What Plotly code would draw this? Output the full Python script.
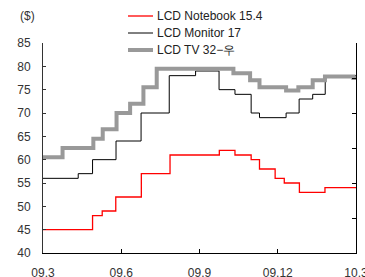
import plotly.graph_objects as go

# x positions: months since 2009-03 (0 = 09.3, 12 = 10.3)
tick_vals = [0, 3, 6, 9, 12]
tick_text = ["09.3", "09.6", "09.9", "09.12", "10.3"]

nb_x = [0, 1.9, 2.27, 2.79, 3.77, 4.87, 6.76, 7.36, 7.98, 8.3, 8.9, 9.25, 9.83, 10.81, 12]
nb_y = [45, 48, 49, 52, 57, 61, 62, 61, 60, 58, 56, 55, 53, 54, 54]

mon_x = [0, 1.35, 1.9, 2.8, 3.76, 4.84, 5.85, 6.75, 7.36, 7.98, 8.3, 9.32, 9.82, 10.34, 10.82, 12]
mon_y = [56, 57, 60, 64, 70, 78, 79, 75, 74, 70, 69, 70, 73, 74, 78, 78]

tv_x = [0, 0.75, 1.93, 2.29, 2.82, 3.34, 3.85, 4.36, 7.3, 7.94, 8.3, 9.32, 9.79, 10.34, 10.81, 11.9, 12]
tv_y = [60.5, 62.5, 64.5, 66.5, 70, 72, 75.5, 79.5, 78.5, 77, 75.5, 74.8, 75.5, 77, 77.8, 77.5, 77.5]

names = ["LCD Notebook 15.4", "LCD Monitor 17", "LCD TV 32\u2212\uc6b0"]
colors = ["#ff0000", "#000000", "#999999"]
widths = [1.3, 1, 4]

# plot area in pixels (for legend placement)
L, R, T, B = 43, 356, 43, 253
W, H = R - L, B - T
def px(x):
    return (x - L) / W
def py(y):
    return (B - y) / H

fig = go.Figure()
for xs, ys, n, c, w in zip([nb_x, mon_x, tv_x], [nb_y, mon_y, tv_y], names, colors, widths):
    fig.add_trace(go.Scatter(x=xs, y=ys, mode="lines", line_shape="hv",
                             line=dict(color=c, width=w), name=n, showlegend=False))
# invisible trace to activate right axis
fig.add_trace(go.Scatter(x=[0], y=[0], yaxis="y2", mode="markers",
                         marker=dict(opacity=0), showlegend=False, hoverinfo="skip"))

shapes = []
annotations = []
for i, (n, c, w) in enumerate(zip(names, colors, widths)):
    yy = 16 + 17 * i
    shapes.append(dict(type="line", xref="paper", yref="paper",
                       x0=px(128), x1=px(153), y0=py(yy), y1=py(yy),
                       line=dict(color=c, width=w)))
    annotations.append(dict(text=n, xref="paper", yref="paper", x=px(155), y=py(yy),
                            xanchor="left", yanchor="middle", showarrow=False,
                            font=dict(size=12, color="#222222")))
annotations.append(dict(text="($)", xref="paper", yref="paper", x=px(27), y=py(16),
                        xanchor="center", yanchor="middle", showarrow=False,
                        font=dict(size=12, color="#333333")))

fig.update_layout(
    width=365, height=277,
    margin=dict(l=L, r=365 - R, t=T, b=277 - B, autoexpand=False),
    paper_bgcolor="white", plot_bgcolor="white",
    font=dict(family="Liberation Sans, Arial, sans-serif", size=12, color="#333333"),
    showlegend=False,
    xaxis=dict(range=[0, 12], tickvals=tick_vals, ticktext=tick_text, automargin=False,
               showgrid=False, zeroline=False, showline=True, linecolor="#000000", linewidth=1,
               ticks="inside", ticklen=4, tickcolor="#000000", ticklabelstandoff=9,
               ticklabeloverflow="allow"),
    yaxis=dict(range=[40, 85], dtick=5, showgrid=False, zeroline=False, automargin=False,
               showline=True, linecolor="#333333", linewidth=1,
               ticks="inside", ticklen=3, tickcolor="#333333", ticklabelstandoff=9),
    yaxis2=dict(range=[0, 6], dtick=1, overlaying="y", side="right", anchor="x",
                automargin=False,
                showgrid=False, zeroline=False, showline=True, linecolor="#000000", linewidth=1,
                ticks="inside", ticklen=4, tickcolor="#000000", showticklabels=False),
    shapes=shapes,
    annotations=annotations,
)

fig.write_html("out.html", config={"displayModeBar": False},
               post_script="document.body.style.margin='0';document.body.style.overflow='hidden';")
